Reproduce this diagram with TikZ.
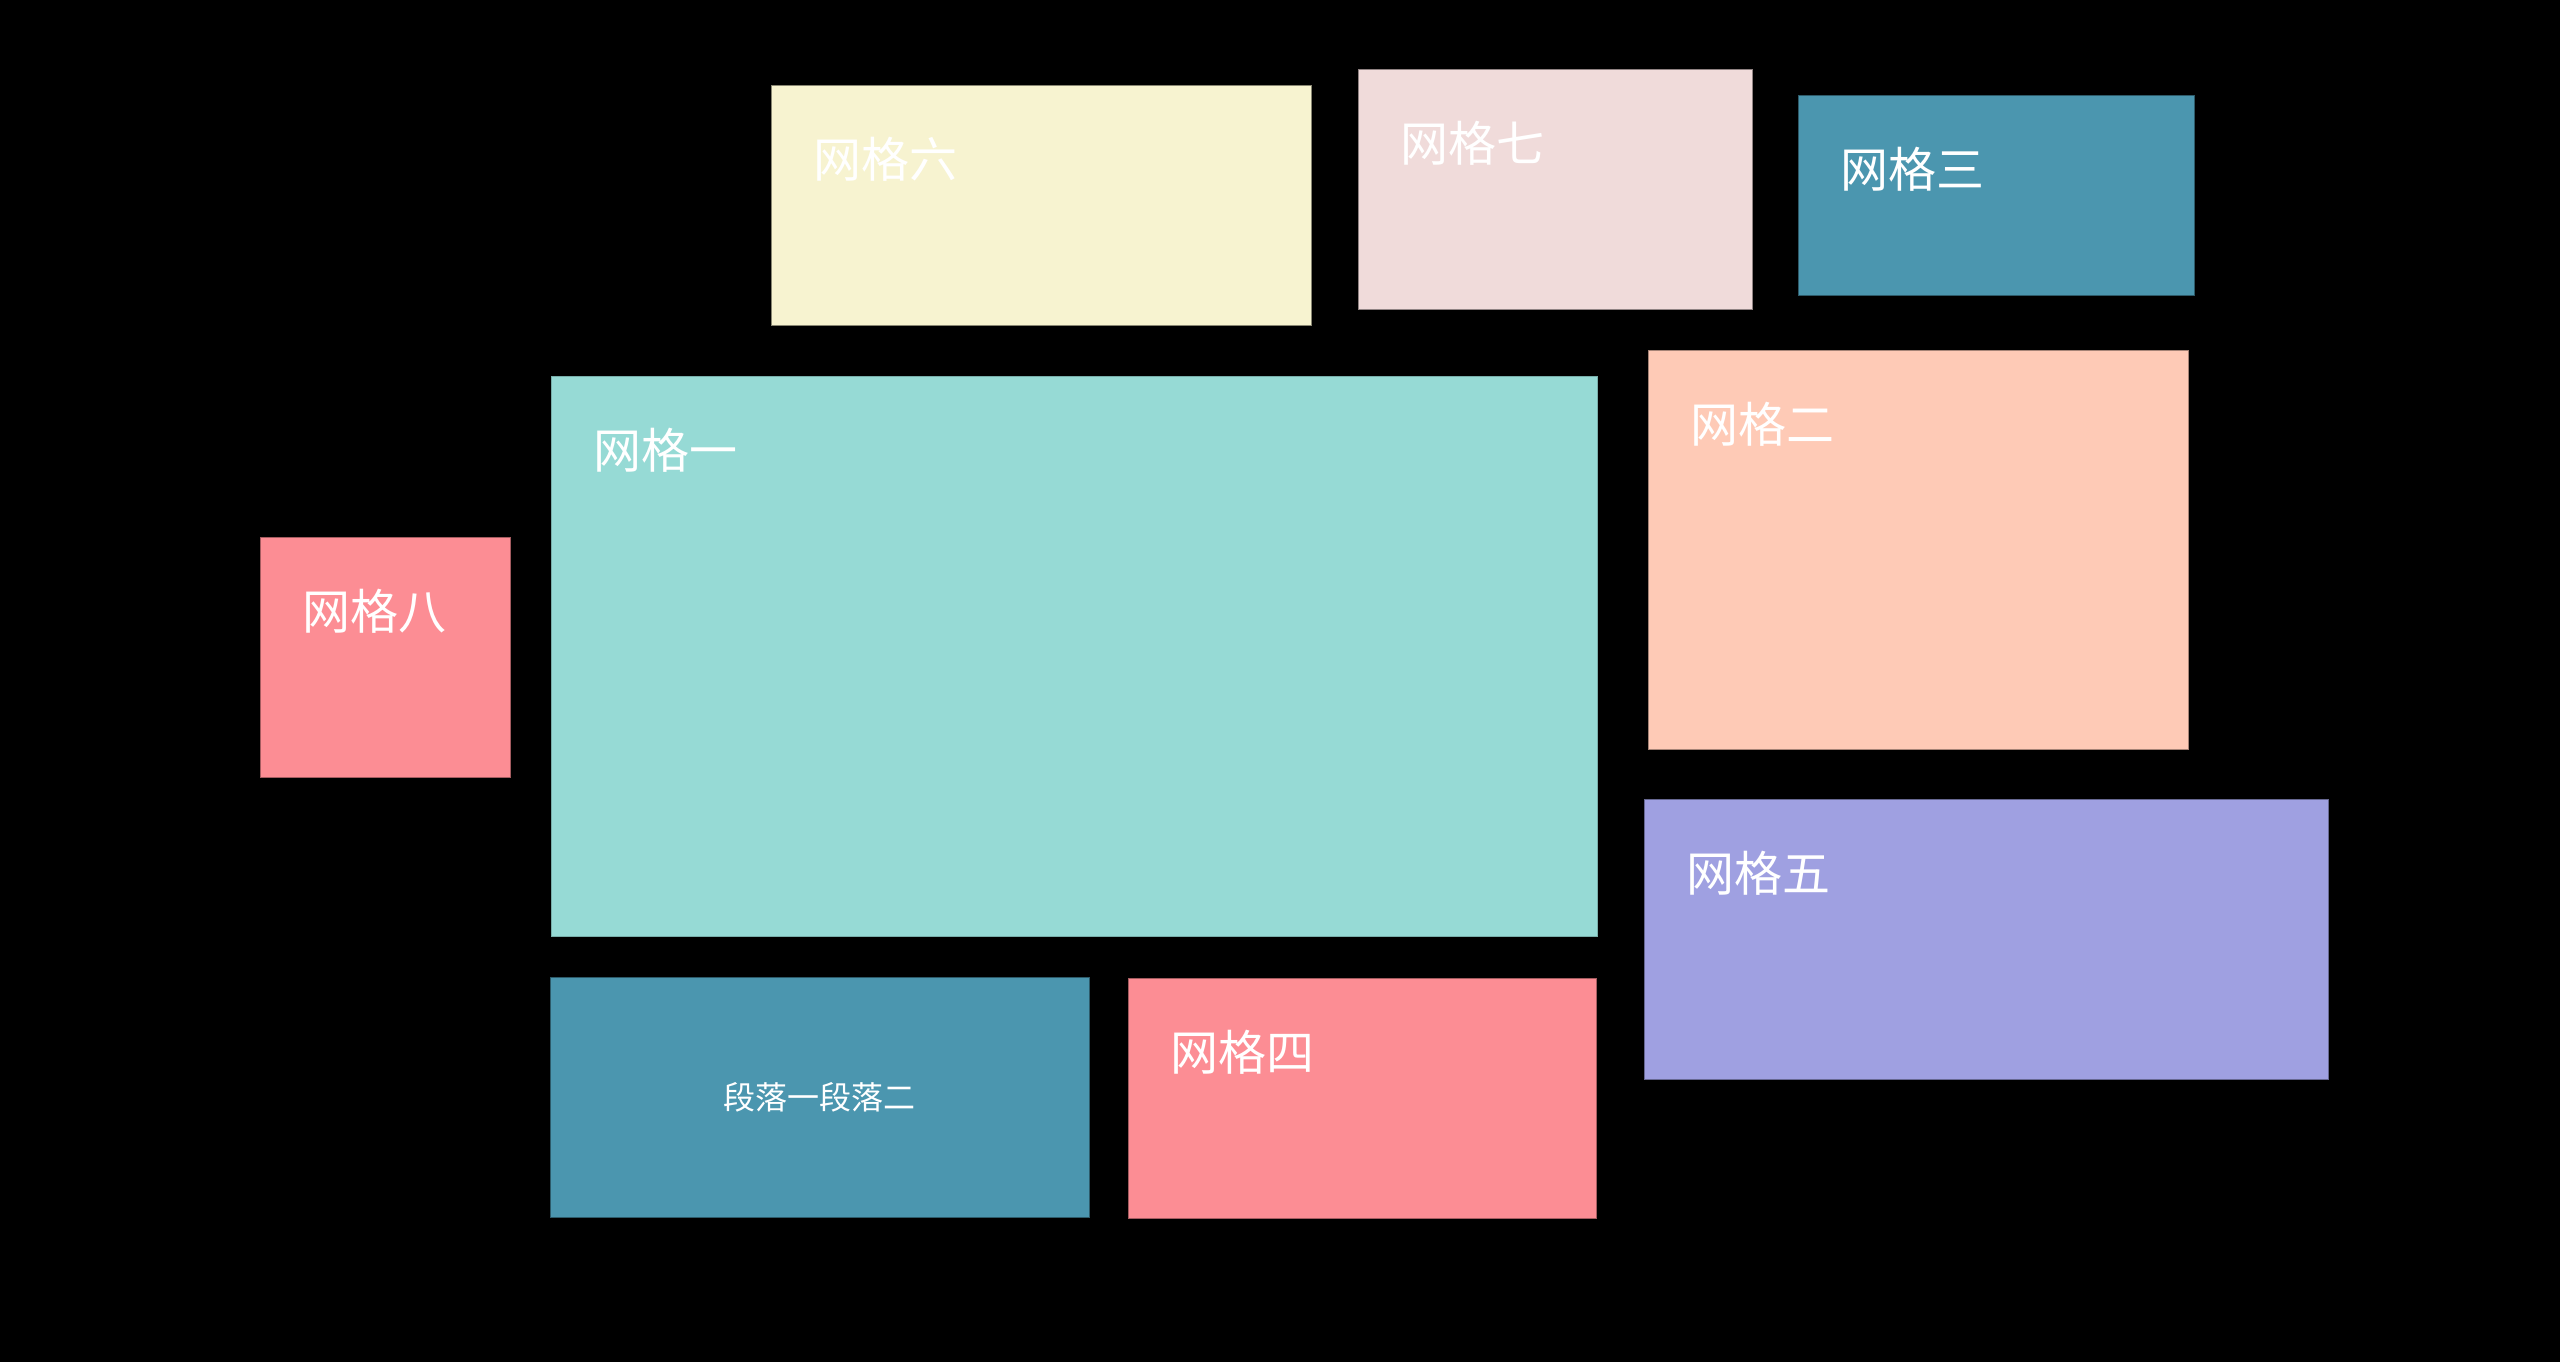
\documentclass[tikz,border=0pt]{standalone}
\usepackage{fontspec}
\newfontfamily\cjkfont{Noto Sans CJK SC}
\usetikzlibrary{calc}
\definecolor{cTeal}{HTML}{96DAD5}
\definecolor{cPeach}{HTML}{FECAB6}
\definecolor{cBlue}{HTML}{4B96AF}
\definecolor{cRed}{HTML}{FC8D94}
\definecolor{cLav}{HTML}{9FA0E1}
\definecolor{cCream}{HTML}{F7F3D0}
\definecolor{cRose}{HTML}{F0DBDA}
\begin{document}
\begin{tikzpicture}[x=1pt,y=-1pt,
  panel/.style={rectangle, inner sep=0pt, outer sep=0pt, anchor=north west, line width=1pt},
  title/.style={anchor=base west, inner sep=0pt, text=white, font=\cjkfont\fontsize{48}{48}\selectfont},
  para/.style={inner sep=0pt, text=white, font=\cjkfont\fontsize{32}{32}\selectfont}]
\fill[black] (0,0) rectangle (2560,1362);
\useasboundingbox (0,0) rectangle (2560,1362);

\node[panel, fill=cTeal, draw=cTeal!80!black, minimum width=1046pt, minimum height=560pt] (b1) at (551,376) {};
\node[panel, fill=cPeach, draw=cPeach!65!black, minimum width=540pt, minimum height=399pt] (b2) at (1648,350) {};
\node[panel, fill=cBlue, draw=cBlue!60!black, minimum width=396pt, minimum height=200pt] (b3) at (1798,95.5) {};
\node[panel, fill=cRed, draw=cRed!65!black, minimum width=468pt, minimum height=240pt] (b4) at (1128,978) {};
\node[panel, fill=cLav, draw=cLav!65!black, minimum width=684pt, minimum height=280pt] (b5) at (1644,799.5) {};
\node[panel, fill=cCream, draw=cCream!55!black, minimum width=540pt, minimum height=240pt] (b6) at (771,85.3) {};
\node[panel, fill=cRose, draw=cRose!60!black, minimum width=394pt, minimum height=240pt] (b7) at (1358,69.7) {};
\node[panel, fill=cRed, draw=cRed!65!black, minimum width=250.5pt, minimum height=240pt] (b8) at (260.3,537.3) {};
\node[panel, fill=cBlue, draw=cBlue!60!black, minimum width=539pt, minimum height=240pt] (bp) at (550,977.3) {};

\node[title] (t1) at ($(b1.north west)+(42,92)$) {网格一};
\node[title] (t2) at ($(b2.north west)+(42,92)$) {网格二};
\node[title] (t3) at ($(b3.north west)+(42,92)$) {网格三};
\node[title] (t4) at ($(b4.north west)+(42,92)$) {网格四};
\node[title] (t5) at ($(b5.north west)+(42,92)$) {网格五};
\node[title] (t6) at ($(b6.north west)+(42,92)$) {网格六};
\node[title] (t7) at ($(b7.north west)+(42,92)$) {网格七};
\node[title] (t8) at ($(b8.north west)+(42,92)$) {网格八};
\node[para] (tp) at (bp.center) {段落一段落二};
\end{tikzpicture}
\end{document}
